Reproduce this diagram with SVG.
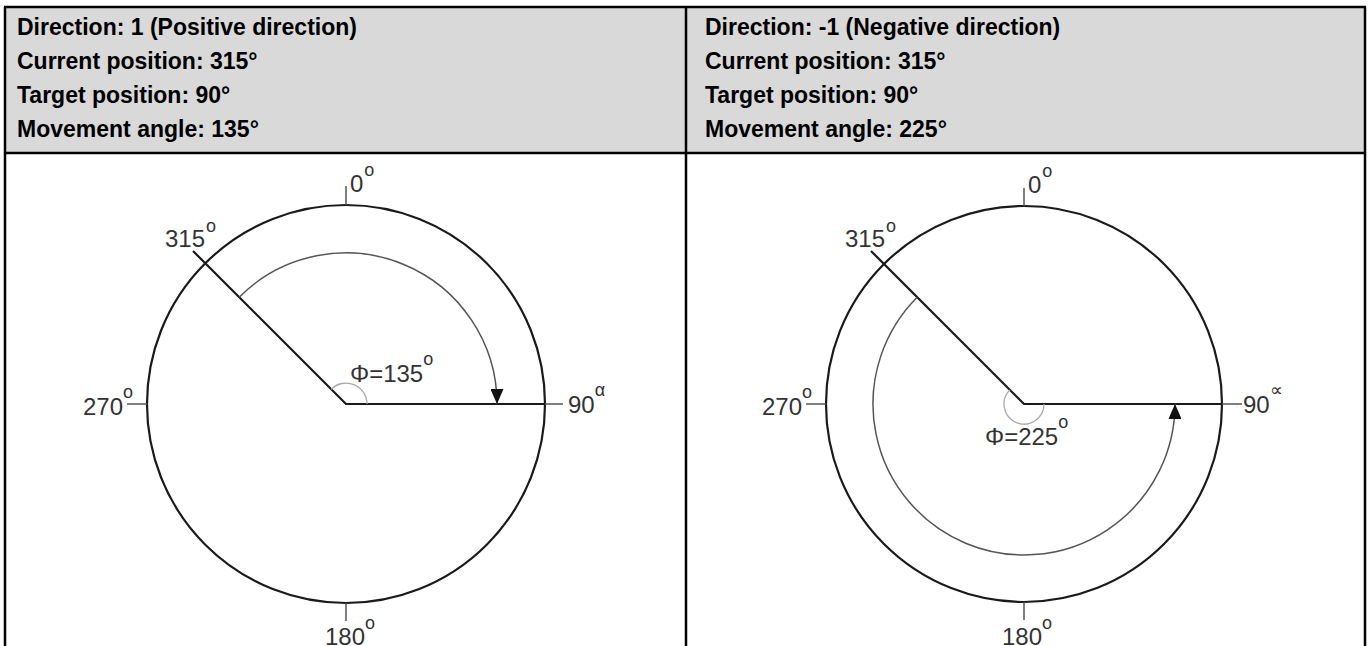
<svg xmlns="http://www.w3.org/2000/svg" width="1370" height="646" viewBox="0 0 1370 646">
<defs>
<style>
.hdr{font-family:"Liberation Sans",Arial,sans-serif;font-weight:bold;font-size:23px;fill:#000}
.lbl{font-family:"Liberation Sans",Arial,sans-serif;font-size:24px;fill:#333}
.sup{font-size:18px}
.grid{stroke:#000;stroke-width:2.5;fill:none}
.circ{fill:none;stroke:#1a1a1a;stroke-width:2.2}
.ray{stroke:#1a1a1a;stroke-width:2.2;fill:none}
.tick{stroke:#555;stroke-width:1.5}
.arc{fill:none;stroke:#555;stroke-width:1.5}
.ang{fill:none;stroke:#aaa;stroke-width:1.3}
</style>
<marker id="ah" viewBox="0 0 10 10" refX="10" refY="5" markerWidth="15" markerHeight="13" markerUnits="userSpaceOnUse" orient="auto" preserveAspectRatio="none"><path d="M0,0 L10,5 L0,10 z" fill="#111"/></marker>
</defs>
<g id="table">
<rect x="5" y="7" width="1360" height="146" fill="#d9d9d9"/>
<line class="grid" x1="4" y1="7" x2="1366" y2="7"/>
<line class="grid" x1="4" y1="153" x2="1366" y2="153"/>
<line class="grid" x1="5" y1="7" x2="5" y2="646"/>
<line class="grid" x1="686" y1="7" x2="686" y2="646"/>
<line class="grid" x1="1365" y1="7" x2="1365" y2="646"/>
</g>
<g id="header-left">
<text class="hdr" x="17" y="35">Direction: 1 (Positive direction)</text>
<text class="hdr" x="17" y="69">Current position: 315°</text>
<text class="hdr" x="17" y="103">Target position: 90°</text>
<text class="hdr" x="17" y="137">Movement angle: 135°</text>
</g>
<g id="header-right">
<text class="hdr" x="705" y="35">Direction: -1 (Negative direction)</text>
<text class="hdr" x="705" y="69">Current position: 315°</text>
<text class="hdr" x="705" y="103">Target position: 90°</text>
<text class="hdr" x="705" y="137">Movement angle: 225°</text>
</g>
<g id="dial-left">
<circle class="circ" cx="346" cy="404" r="199"/>
<line class="tick" x1="346" y1="186" x2="346" y2="205"/>
<line class="tick" x1="127" y1="404" x2="147" y2="404"/>
<line class="tick" x1="346" y1="603" x2="346" y2="621"/>
<line class="tick" x1="545" y1="404" x2="563" y2="404"/>
<polyline class="ray" points="193,251 346,404 545,404"/>
<path class="ang" d="M331.2,389.2 A21,21 0 0 1 367,404"/>
<text class="lbl" x="350" y="192">0<tspan class="sup" dx="1" dy="-16">o</tspan></text>
<text class="lbl" x="165" y="247">315<tspan class="sup" dx="1" dy="-15">o</tspan></text>
<text class="lbl" x="83" y="415">270<tspan class="sup" dx="0" dy="-17">o</tspan></text>
<text class="lbl" x="568" y="413">90<tspan class="sup" dx="0" dy="-17">α</tspan></text>
<text class="lbl" x="325" y="645">180<tspan class="sup" dx="0" dy="-16">o</tspan></text>
<text class="lbl" x="350" y="382">Φ=135<tspan class="sup" dx="0" dy="-17">o</tspan></text>
</g>
<g id="dial-right">
<circle class="circ" cx="1024" cy="404" r="198"/>
<line class="tick" x1="1024" y1="188" x2="1024" y2="206"/>
<line class="tick" x1="806" y1="404" x2="826" y2="404"/>
<line class="tick" x1="1024" y1="602" x2="1024" y2="620"/>
<line class="tick" x1="1222" y1="404" x2="1242" y2="404"/>
<polyline class="ray" points="871,251 1024,404 1222,404"/>
<path class="ang" d="M1009.9,389.9 A20,20 0 1 0 1044,404"/>
<text class="lbl" x="1028" y="193">0<tspan class="sup" dx="1" dy="-16">o</tspan></text>
<text class="lbl" x="845" y="247">315<tspan class="sup" dx="1" dy="-15">o</tspan></text>
<text class="lbl" x="762" y="415">270<tspan class="sup" dx="0" dy="-17">o</tspan></text>
<text class="lbl" x="1243" y="413">90<tspan class="sup" dx="0" dy="-17">∝</tspan></text>
<text class="lbl" x="1002" y="645">180<tspan class="sup" dx="0" dy="-16">o</tspan></text>
<text class="lbl" x="985" y="445">Φ=225<tspan class="sup" dx="0" dy="-17">o</tspan></text>
</g>
<g id="connectors">
<path class="arc" d="M239.2,297.2 A151,151 0 0 1 497,404" marker-end="url(#ah)"/>
<path class="arc" d="M917.2,297.2 A151,151 0 1 0 1175,404" marker-end="url(#ah)"/>
</g>
</svg>
